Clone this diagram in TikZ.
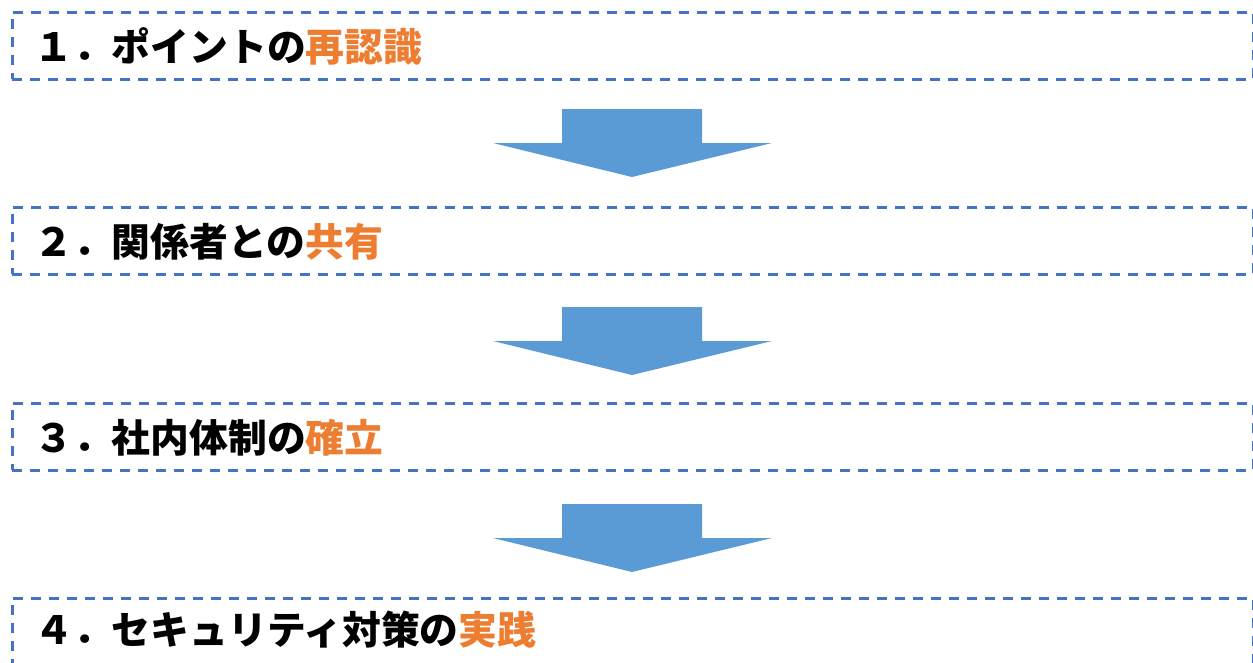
\documentclass[tikz,border=0pt]{standalone}
\usepackage{fontspec}
\newfontfamily\jp{Noto Sans CJK JP}
\definecolor{dashblue}{HTML}{4472C4}
\definecolor{arrowblue}{HTML}{5B9BD5}
\definecolor{accent}{HTML}{ED7D31}
\begin{document}
\begin{tikzpicture}[x=1pt,y=-1pt,
  stepbox/.style={draw=dashblue, line width=2.8pt, dash pattern=on 10pt off 8pt, minimum width=1241pt, minimum height=67pt, anchor=north west, inner sep=0pt},
  label/.style={anchor=west, inner sep=0pt, font=\jp\bfseries\fontsize{38.8}{46}\selectfont},
  blockarrow/.style={fill=arrowblue, draw=none}]
\clip (0,0) rectangle (1253,662);
\node[stepbox] (b1) at (11,11) {};
\node[stepbox] (b2) at (11,206) {};
\node[stepbox] (b3) at (11,402) {};
\node[stepbox] (b4) at (11,597) {};
\node[label] (t1) at ([xshift=23pt,yshift=-1pt]b1.west) {１．ポイントの\textcolor{accent}{再認識}};
\node[label] (t2) at ([xshift=23pt,yshift=-1pt]b2.west) {２．関係者との\textcolor{accent}{共有}};
\node[label] (t3) at ([xshift=23pt,yshift=-1pt]b3.west) {３．社内体制の\textcolor{accent}{確立}};
\node[label] (t4) at ([xshift=23pt,yshift=-32.5pt]b4.north west) {４．セキュリティ対策の\textcolor{accent}{実践}};
\foreach \ya/\name in {109/a1,307/a2,504/a3}{
  \fill[blockarrow] (562,\ya) -- (702,\ya) -- (702,\ya+34) -- (772,\ya+34) -- (632,\ya+68) -- (493,\ya+34) -- (562,\ya+34) -- cycle;
}
\end{tikzpicture}
\end{document}
